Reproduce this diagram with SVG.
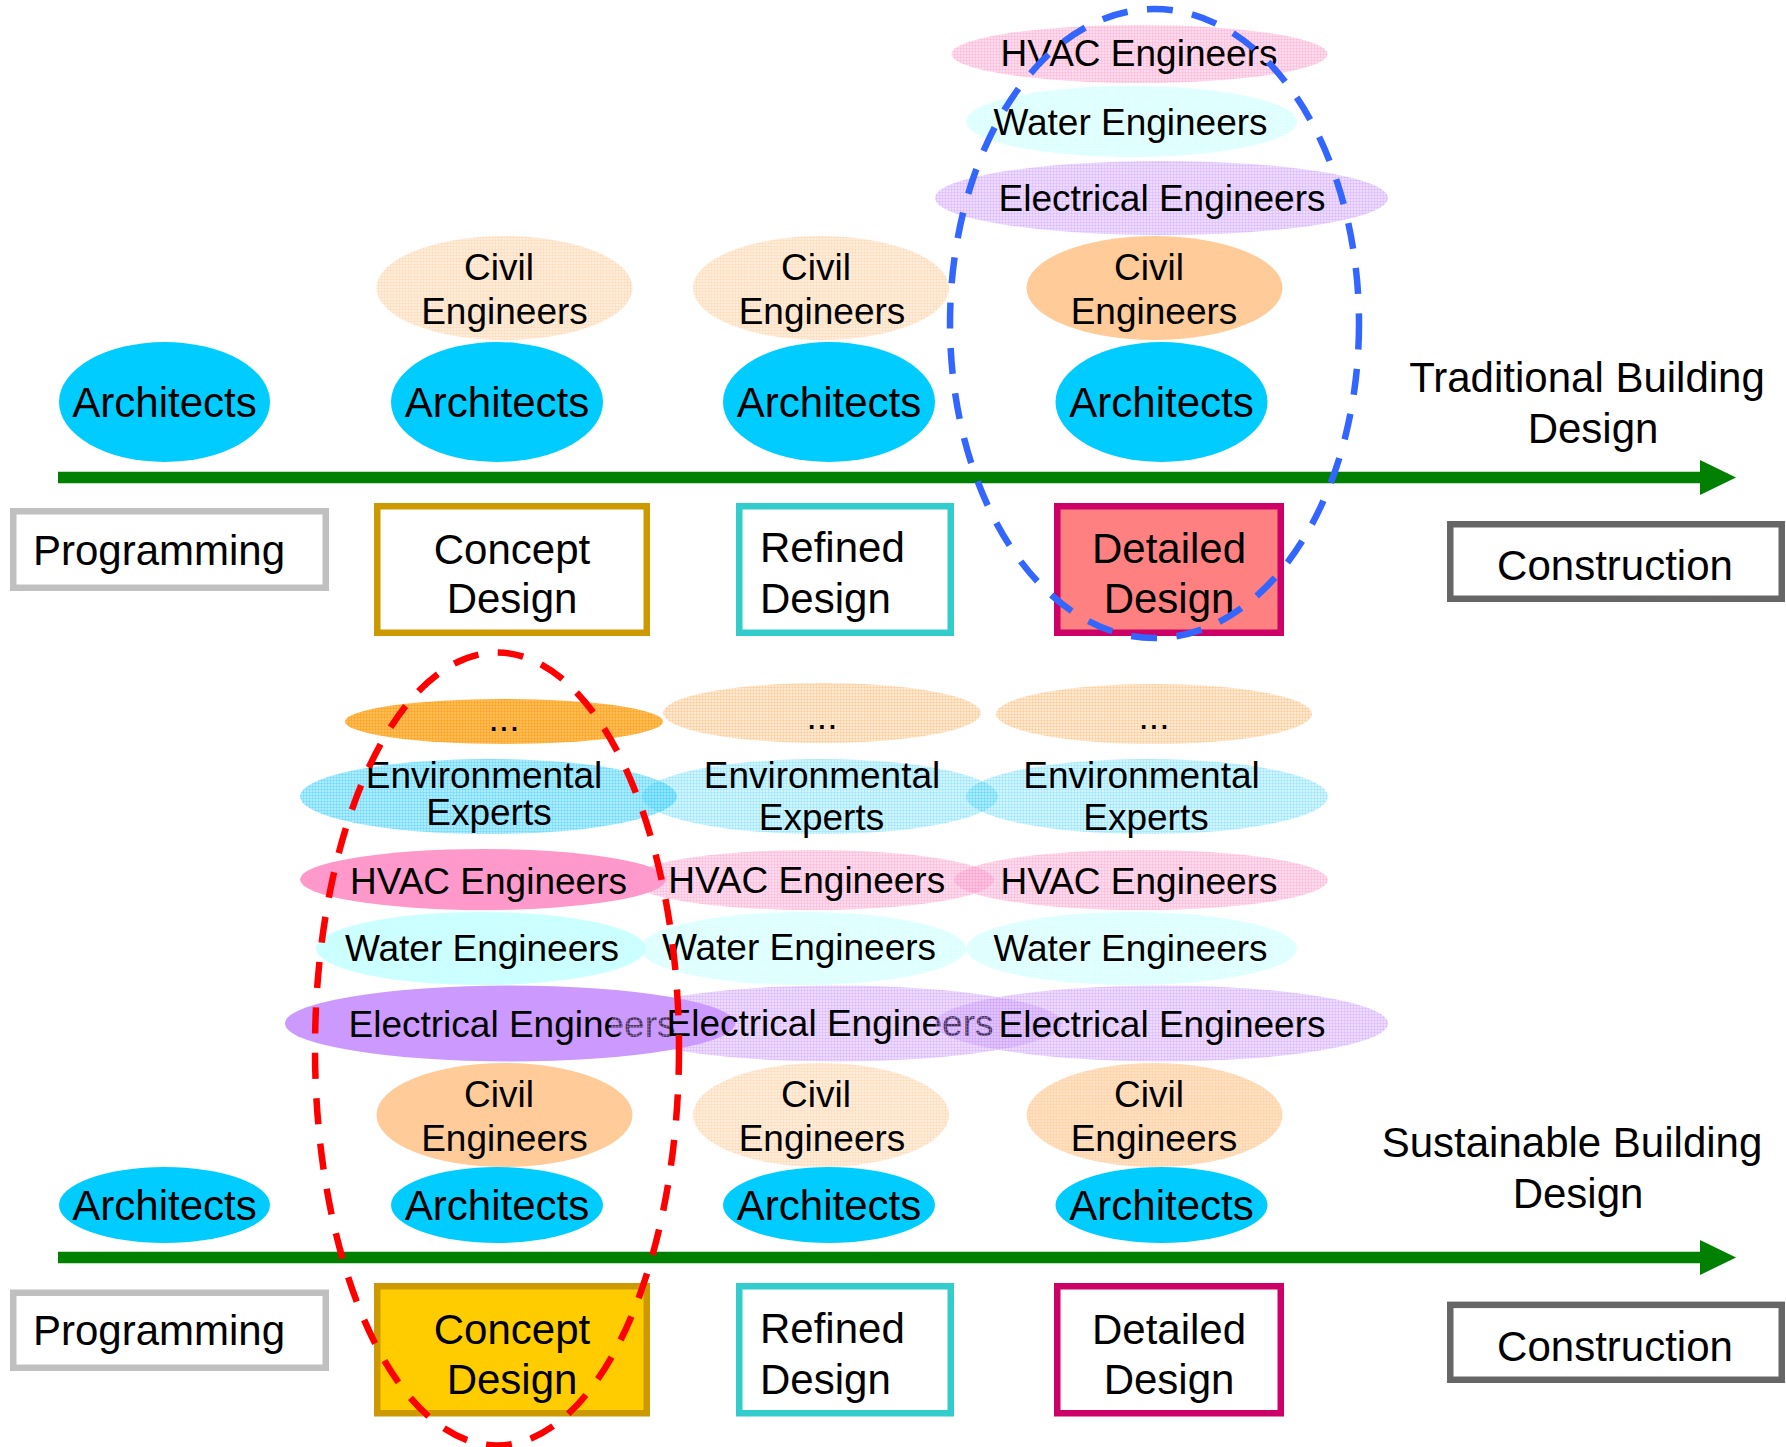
<svg xmlns="http://www.w3.org/2000/svg" width="1786" height="1447" viewBox="0 0 1786 1447">
  <defs>
    <style>
      text { font-family: "Liberation Sans", Arial, Helvetica, sans-serif; fill: #000; }
      .arch { font-size: 42px; text-anchor: middle; }
      .eng { font-size: 37px; text-anchor: middle; }
      .phase { font-size: 42px; }
      .mid { text-anchor: middle; }
      .title { font-size: 42px; text-anchor: middle; }
      .box { fill: #fff; stroke-width: 6.5; }
      .axis { fill: #008000; }
      .ring { fill: none; stroke-width: 6.5; stroke-dasharray: 26 19.5; }
      .a { fill: #00CCFF; }
      .civil { fill: #FFCC99; }
      .hvac { fill: #FF99CC; }
      .water { fill: #CCFFFF; }
      .elec { fill: #CC99FF; }
    </style>
    <!-- light, semi-transparent mesh fills for the roles that are less involved -->
    <pattern id="m-civil" width="3" height="3" patternUnits="userSpaceOnUse">
      <rect width="3" height="3" fill="#FFCC99" fill-opacity="0.35"/>
      <path d="M0 0.5H3M0.5 0V3" stroke="#FFCC99" stroke-opacity="0.3"/>
    </pattern>
    <pattern id="m-civil-mid" width="3" height="3" patternUnits="userSpaceOnUse">
      <rect width="3" height="3" fill="#FFCC99" fill-opacity="0.6"/>
      <path d="M0 0.5H3M0.5 0V3" stroke="#FFCC99" stroke-opacity="0.4"/>
    </pattern>
    <pattern id="m-hvac" width="3" height="3" patternUnits="userSpaceOnUse">
      <rect width="3" height="3" fill="#FF99CC" fill-opacity="0.35"/>
      <path d="M0 0.5H3M0.5 0V3" stroke="#FF99CC" stroke-opacity="0.3"/>
    </pattern>
    <pattern id="m-water" width="3" height="3" patternUnits="userSpaceOnUse">
      <rect width="3" height="3" fill="#CCFFFF" fill-opacity="0.5"/>
      <path d="M0 0.5H3M0.5 0V3" stroke="#CCFFFF" stroke-opacity="0.3"/>
    </pattern>
    <pattern id="m-elec" width="3" height="3" patternUnits="userSpaceOnUse">
      <rect width="3" height="3" fill="#CC99FF" fill-opacity="0.35"/>
      <path d="M0 0.5H3M0.5 0V3" stroke="#CC99FF" stroke-opacity="0.3"/>
    </pattern>
    <pattern id="m-env" width="3" height="3" patternUnits="userSpaceOnUse">
      <rect width="3" height="3" fill="#33CCFF" fill-opacity="0.22"/>
      <path d="M0 0.5H3M0.5 0V3" stroke="#33CCFF" stroke-opacity="0.2"/>
    </pattern>
    <pattern id="m-env-strong" width="3" height="3" patternUnits="userSpaceOnUse">
      <rect width="3" height="3" fill="#33CCFF" fill-opacity="0.4"/>
      <path d="M0 0.5H3M0.5 0V3" stroke="#33CCFF" stroke-opacity="0.3"/>
    </pattern>
    <pattern id="m-etc" width="3" height="3" patternUnits="userSpaceOnUse">
      <rect width="3" height="3" fill="#FF9933" fill-opacity="0.22"/>
      <path d="M0 0.5H3M0.5 0V3" stroke="#FF9933" stroke-opacity="0.2"/>
    </pattern>
    <pattern id="m-etc-strong" width="3" height="3" patternUnits="userSpaceOnUse">
      <rect width="3" height="3" fill="#FF9900" fill-opacity="0.65"/>
      <path d="M0 0.5H3M0.5 0V3" stroke="#FF9900" stroke-opacity="0.4"/>
    </pattern>
  </defs>

  <rect width="1786" height="1447" fill="#fff"/>

  <!-- timelines -->
  <g id="connectors">
    <g id="timeline-traditional">
      <rect class="axis" x="58" y="471.75" width="1643" height="11.5"/>
      <polygon class="axis" points="1700,460 1736,477.5 1700,495"/>
    </g>
    <g id="timeline-sustainable">
      <rect class="axis" x="58" y="1251.75" width="1643" height="11.5"/>
      <polygon class="axis" points="1700,1240 1736,1257.5 1700,1275"/>
    </g>
  </g>

  <!-- ===== Traditional building design ===== -->
  <g id="t-architects-1"><ellipse class="a" cx="164.5" cy="402" rx="105.5" ry="60"/><text class="arch" x="164.5" y="417">Architects</text></g>

  <g id="t-civil-2"><ellipse cx="504.5" cy="288" rx="128" ry="52" fill="url(#m-civil)"/><text class="eng" x="499" y="280">Civil</text><text class="eng" x="504.5" y="324">Engineers</text></g>
  <g id="t-architects-2"><ellipse class="a" cx="497" cy="402" rx="106" ry="60"/><text class="arch" x="497" y="417">Architects</text></g>

  <g id="t-civil-3"><ellipse cx="821" cy="288" rx="128" ry="52" fill="url(#m-civil)"/><text class="eng" x="816" y="280">Civil</text><text class="eng" x="822" y="324">Engineers</text></g>
  <g id="t-architects-3"><ellipse class="a" cx="829" cy="402" rx="106" ry="60"/><text class="arch" x="829" y="417">Architects</text></g>

  <g id="t-hvac-4"><ellipse cx="1139.5" cy="54" rx="188" ry="29" fill="url(#m-hvac)"/><text class="eng" x="1139" y="66">HVAC Engineers</text></g>
  <g id="t-water-4"><ellipse cx="1131.5" cy="121.5" rx="165.5" ry="35.5" fill="url(#m-water)"/><text class="eng" x="1130.5" y="134.5">Water Engineers</text></g>
  <g id="t-electrical-4"><ellipse cx="1161.5" cy="198" rx="226.5" ry="37" fill="url(#m-elec)"/><text class="eng" x="1162" y="211">Electrical Engineers</text></g>
  <g id="t-civil-4"><ellipse class="civil" cx="1154.5" cy="288" rx="128" ry="52"/><text class="eng" x="1149" y="280">Civil</text><text class="eng" x="1154" y="324">Engineers</text></g>
  <g id="t-architects-4"><ellipse class="a" cx="1161.5" cy="402" rx="106" ry="60"/><text class="arch" x="1161.5" y="417">Architects</text></g>

  <g id="t-title"><text class="title" x="1587" y="392">Traditional Building</text><text class="title" x="1593" y="443">Design</text></g>

  <g id="t-programming"><rect class="box" x="13.25" y="511.25" width="312.5" height="76.5" stroke="#C0C0C0"/><text class="phase" x="33" y="565">Programming</text></g>
  <g id="t-concept"><rect class="box" x="377.25" y="506.25" width="269.5" height="126.5" stroke="#CC9900"/><text class="phase mid" x="512" y="564">Concept</text><text class="phase mid" x="512" y="613">Design</text></g>
  <g id="t-refined"><rect class="box" x="739.25" y="506.25" width="211.5" height="126.5" stroke="#33CCCC"/><text class="phase" x="760" y="562">Refined</text><text class="phase" x="760" y="613">Design</text></g>
  <g id="t-detailed"><rect class="box" x="1057.25" y="506.25" width="223.5" height="126.5" stroke="#CC0066" style="fill:#FF8080"/><text class="phase mid" x="1169" y="563">Detailed</text><text class="phase mid" x="1169" y="613">Design</text></g>
  <g id="t-construction"><rect class="box" x="1450.25" y="524.25" width="331.5" height="74.5" stroke="#666666"/><text class="phase mid" x="1615" y="580">Construction</text></g>

  <!-- ===== Sustainable building design ===== -->
  <g id="s-architects-1"><ellipse class="a" cx="164.5" cy="1205" rx="105.5" ry="38"/><text class="arch" x="164.5" y="1220">Architects</text></g>

  <!-- concept design column -->
  <g id="s-etc-2"><ellipse cx="504" cy="721.5" rx="159" ry="22.5" fill="url(#m-etc-strong)"/><text class="eng" x="504" y="731">...</text></g>
  <g id="s-environmental-2"><ellipse cx="488.5" cy="796.5" rx="188.5" ry="37.5" fill="url(#m-env-strong)"/><text class="eng" x="484" y="788">Environmental</text><text class="eng" x="489" y="825">Experts</text></g>
  <g id="s-hvac-2"><ellipse class="hvac" cx="483" cy="879.5" rx="183" ry="30.5"/><text class="eng" x="488.5" y="894">HVAC Engineers</text></g>
  <g id="s-water-2"><ellipse class="water" cx="481" cy="948.5" rx="165" ry="36.5"/><text class="eng" x="482" y="961">Water Engineers</text></g>
  <g id="s-electrical-2"><ellipse class="elec" cx="510" cy="1023.5" rx="225" ry="38"/><text class="eng" x="512" y="1037">Electrical Engineers</text></g>
  <g id="s-civil-2"><ellipse class="civil" cx="504.5" cy="1115" rx="128" ry="52"/><text class="eng" x="499" y="1106.5">Civil</text><text class="eng" x="504.5" y="1151">Engineers</text></g>
  <g id="s-architects-2"><ellipse class="a" cx="497" cy="1205" rx="106" ry="38"/><text class="arch" x="497" y="1220">Architects</text></g>

  <!-- refined design column -->
  <g id="s-etc-3"><ellipse cx="822" cy="713" rx="159" ry="30" fill="url(#m-etc)"/><text class="eng" x="822" y="729">...</text></g>
  <g id="s-environmental-3"><ellipse cx="820" cy="796.5" rx="178" ry="37.5" fill="url(#m-env)"/><text class="eng" x="822" y="788">Environmental</text><text class="eng" x="821.5" y="830">Experts</text></g>
  <g id="s-hvac-3"><ellipse cx="812" cy="880" rx="182" ry="30" fill="url(#m-hvac)"/><text class="eng" x="806.7" y="893">HVAC Engineers</text></g>
  <g id="s-water-3"><ellipse cx="803" cy="948.5" rx="163" ry="36.5" fill="url(#m-water)"/><text class="eng" x="799" y="960">Water Engineers</text></g>
  <g id="s-electrical-3"><ellipse cx="836" cy="1023.5" rx="226" ry="38" fill="url(#m-elec)"/><text class="eng" x="830" y="1036">Electrical Engineers</text></g>
  <g id="s-civil-3"><ellipse cx="821" cy="1115" rx="128" ry="52" fill="url(#m-civil)"/><text class="eng" x="816" y="1106.5">Civil</text><text class="eng" x="822" y="1151">Engineers</text></g>
  <g id="s-architects-3"><ellipse class="a" cx="829" cy="1205" rx="106" ry="38"/><text class="arch" x="829" y="1220">Architects</text></g>

  <!-- detailed design column -->
  <g id="s-etc-4"><ellipse cx="1154" cy="714" rx="158" ry="30" fill="url(#m-etc)"/><text class="eng" x="1154" y="729">...</text></g>
  <g id="s-environmental-4"><ellipse cx="1147" cy="796.5" rx="181" ry="37.5" fill="url(#m-env)"/><text class="eng" x="1141.5" y="788">Environmental</text><text class="eng" x="1146" y="830">Experts</text></g>
  <g id="s-hvac-4"><ellipse cx="1141" cy="880" rx="187" ry="30" fill="url(#m-hvac)"/><text class="eng" x="1139" y="894">HVAC Engineers</text></g>
  <g id="s-water-4"><ellipse cx="1131.5" cy="948.5" rx="165.5" ry="36.5" fill="url(#m-water)"/><text class="eng" x="1130.5" y="961">Water Engineers</text></g>
  <g id="s-electrical-4"><ellipse cx="1161.5" cy="1023.5" rx="226.5" ry="38" fill="url(#m-elec)"/><text class="eng" x="1162" y="1037">Electrical Engineers</text></g>
  <g id="s-civil-4"><ellipse cx="1154.5" cy="1115" rx="128" ry="52" fill="url(#m-civil-mid)"/><text class="eng" x="1149" y="1106.5">Civil</text><text class="eng" x="1154" y="1151">Engineers</text></g>
  <g id="s-architects-4"><ellipse class="a" cx="1161.5" cy="1205" rx="106" ry="38"/><text class="arch" x="1161.5" y="1220">Architects</text></g>

  <g id="s-title"><text class="title" x="1572" y="1157">Sustainable Building</text><text class="title" x="1578" y="1208">Design</text></g>

  <g id="s-programming"><rect class="box" x="13.25" y="1292.75" width="312.5" height="75" stroke="#C0C0C0"/><text class="phase" x="33" y="1345">Programming</text></g>
  <g id="s-concept"><rect class="box" x="377.25" y="1286.25" width="269.5" height="127" stroke="#CC9900" style="fill:#FFCC00"/><text class="phase mid" x="512" y="1344">Concept</text><text class="phase mid" x="512" y="1394">Design</text></g>
  <g id="s-refined"><rect class="box" x="739.25" y="1286.25" width="211.5" height="127" stroke="#33CCCC"/><text class="phase" x="760" y="1343">Refined</text><text class="phase" x="760" y="1394">Design</text></g>
  <g id="s-detailed"><rect class="box" x="1057.25" y="1286.25" width="223.5" height="127" stroke="#CC0066"/><text class="phase mid" x="1169" y="1344">Detailed</text><text class="phase mid" x="1169" y="1394">Design</text></g>
  <g id="s-construction"><rect class="box" x="1450.25" y="1304.85" width="331.5" height="74.9" stroke="#666666"/><text class="phase mid" x="1615" y="1361">Construction</text></g>

  <!-- highlight rings around the phase where most specialists join -->
  <g id="highlights">
    <ellipse id="ring-traditional" class="ring" cx="1154.5" cy="323.5" rx="204.5" ry="314.5" stroke="#3366FF"/>
    <ellipse id="ring-sustainable" class="ring" cx="497" cy="1049" rx="182" ry="396.5" stroke="#FF0000"/>
  </g>
</svg>
